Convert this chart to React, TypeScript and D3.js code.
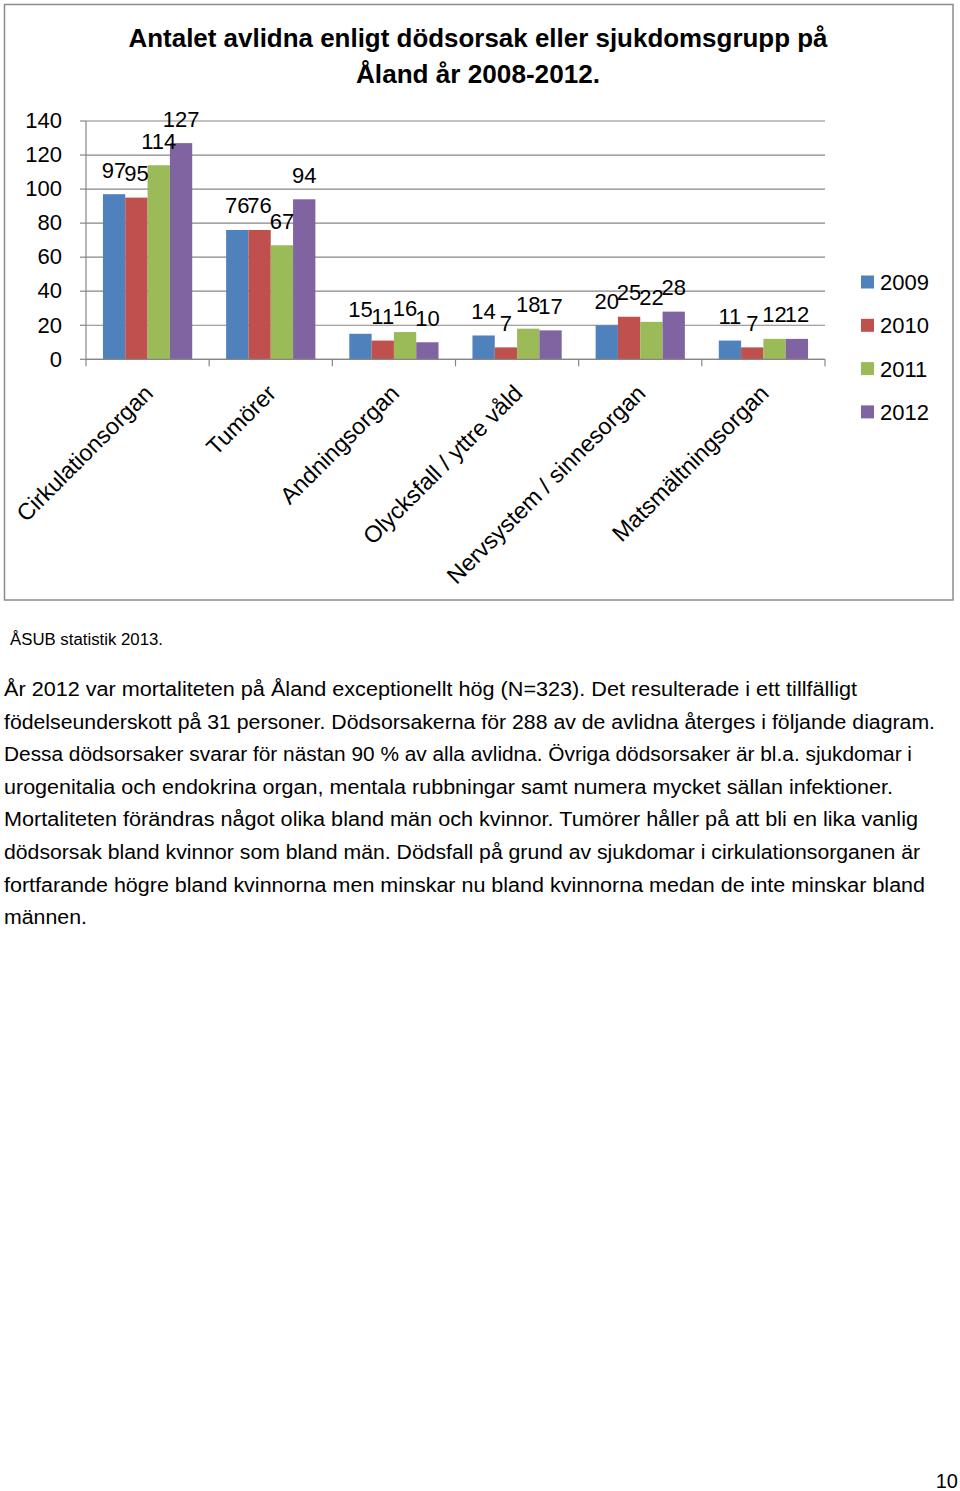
import React from "react";
import * as d3 from "d3";

const categories = [
  "Cirkulationsorgan",
  "Tumörer",
  "Andningsorgan",
  "Olycksfall / yttre våld",
  "Nervsystem / sinnesorgan",
  "Matsmältningsorgan",
];
const years = ["2009", "2010", "2011", "2012"];
const values2009 = [97, 76, 15, 14, 20, 11];
const values2010 = [95, 76, 11, 7, 25, 7];
const values2011 = [114, 67, 16, 18, 22, 12];
const values2012 = [127, 94, 10, 17, 28, 12];
const seriesValues = [values2009, values2010, values2011, values2012];
const colors = ["#4F81BD", "#C0504D", "#9BBB59", "#8064A2"];
const yTicks = [0, 20, 40, 60, 80, 100, 120, 140];

const titleLines = [
  "Antalet avlidna enligt dödsorsak  eller sjukdomsgrupp  på",
  "Åland år 2008-2012.",
];
const sourceText = "ÅSUB statistik 2013.";
const paragraphLines = [
  "År 2012 var mortaliteten på Åland exceptionellt hög (N=323). Det resulterade i ett tillfälligt",
  "födelseunderskott på 31 personer. Dödsorsakerna för 288 av de avlidna återges i följande diagram.",
  "Dessa dödsorsaker svarar för nästan 90 % av alla avlidna. Övriga dödsorsaker är bl.a. sjukdomar i",
  "urogenitalia och endokrina organ, mentala rubbningar samt numera mycket sällan infektioner.",
  "Mortaliteten förändras något olika bland män och kvinnor. Tumörer håller på att bli en lika vanlig",
  "dödsorsak bland kvinnor som bland män. Dödsfall på grund av sjukdomar i cirkulationsorganen är",
  "fortfarande högre bland kvinnorna men minskar nu bland kvinnorna medan de inte minskar bland",
  "männen.",
];
const paragraphWidths = [853, 931, 908, 889, 914, 916, 921, 83];
const pageNumber = "10";

const FONT = "'Liberation Sans', Arial, sans-serif";

export default function App() {
  const x0 = d3.scaleBand<string>().domain(categories).range([86, 825]).padding(0);
  const x1 = d3
    .scaleBand<string>()
    .domain(years)
    .range([0, x0.bandwidth()])
    .paddingInner(0)
    .paddingOuter(0.76);
  const y = d3.scaleLinear().domain([0, 140]).range([359.3, 121]);

  const boundaries = categories.map((c) => x0(c) as number).concat([825]);

  return (
    <svg
      width={960}
      height={1491}
      style={{ position: "absolute", left: 0, top: 0, background: "#fff" }}
      fontFamily={FONT}
    >
      <rect x={0} y={0} width={960} height={1491} fill="#fff" />
      {/* chart frame */}
      <rect x={4.5} y={4.5} width={948.5} height={595.5} fill="#fff" stroke="#8C8C8C" strokeWidth={1.5} />

      {/* title */}
      <text x={478} y={47} textAnchor="middle" fontSize={26} fontWeight="bold" fill="#000"
        textLength={699} lengthAdjust="spacingAndGlyphs">
        {titleLines[0]}
      </text>
      <text x={478} y={83} textAnchor="middle" fontSize={26} fontWeight="bold" fill="#000"
        textLength={244} lengthAdjust="spacingAndGlyphs">
        {titleLines[1]}
      </text>

      {/* gridlines */}
      {yTicks.map((t) => (
        <line key={"g" + t} x1={86} x2={825} y1={y(t)} y2={y(t)} stroke="#868686" strokeWidth={1.2} />
      ))}
      {/* y axis */}
      <line x1={86} x2={86} y1={y(140)} y2={y(0)} stroke="#868686" strokeWidth={1.2} />
      {yTicks.map((t) => (
        <g key={"yt" + t}>
          <line x1={80} x2={86} y1={y(t)} y2={y(t)} stroke="#868686" strokeWidth={1.2} />
          <text x={62} y={y(t)} dy="0.33em" textAnchor="end" fontSize={22} fill="#000">
            {t}
          </text>
        </g>
      ))}
      {/* x tick marks */}
      {boundaries.map((b, i) => (
        <line key={"xt" + i} x1={b} x2={b} y1={y(0)} y2={y(0) + 7} stroke="#868686" strokeWidth={1.2} />
      ))}

      {/* bars */}
      {categories.map((c, ci) => (
        <g key={c} transform={`translate(${x0(c)},0)`}>
          {years.map((yr, si) => {
            const v = seriesValues[si][ci];
            return (
              <rect
                key={yr}
                x={x1(yr) as number}
                y={y(v)}
                width={x1.bandwidth()}
                height={y(0) - y(v)}
                fill={colors[si]}
              />
            );
          })}
        </g>
      ))}
      {/* zero axis line on top */}
      <line x1={86} x2={825} y1={y(0)} y2={y(0)} stroke="#868686" strokeWidth={1.2} />

      {/* data labels */}
      {categories.map((c, ci) =>
        years.map((yr, si) => {
          const v = seriesValues[si][ci];
          const cx = (x0(c) as number) + (x1(yr) as number) + x1.bandwidth() / 2;
          return (
            <text key={c + yr} x={cx} y={y(v) - 16.5} textAnchor="middle" fontSize={22} fill="#000">
              {v}
            </text>
          );
        })
      )}

      {/* category labels */}
      {categories.map((c) => {
        const cx = (x0(c) as number) + x0.bandwidth() / 2;
        return (
          <text
            key={"cl" + c}
            transform={`translate(${cx + 1},${389}) rotate(-45)`}
            textAnchor="end"
            dy="0.35em"
            fontSize={23.3}
            fill="#000"
          >
            {c}
          </text>
        );
      })}

      {/* legend */}
      {years.map((yr, i) => {
        const cy = 282 + i * 43.3;
        return (
          <g key={"lg" + yr}>
            <rect x={861} y={cy - 6.5} width={13} height={13} fill={colors[i]} />
            <text x={880} y={cy} dy="0.36em" fontSize={22} fill="#000">
              {yr}
            </text>
          </g>
        );
      })}

      {/* source */}
      <text x={10} y={645} fontSize={16} fill="#000" textLength={153} lengthAdjust="spacingAndGlyphs">
        {sourceText}
      </text>

      {/* paragraph */}
      {paragraphLines.map((line, i) => (
        <text
          key={"p" + i}
          x={4}
          y={696 + i * 32.6}
          fontSize={20}
          fill="#000"
          textLength={paragraphWidths[i]}
          lengthAdjust="spacingAndGlyphs"
        >
          {line}
        </text>
      ))}

      {/* page number */}
      <text x={958} y={1488} textAnchor="end" fontSize={20} fill="#000">
        {pageNumber}
      </text>
    </svg>
  );
}
